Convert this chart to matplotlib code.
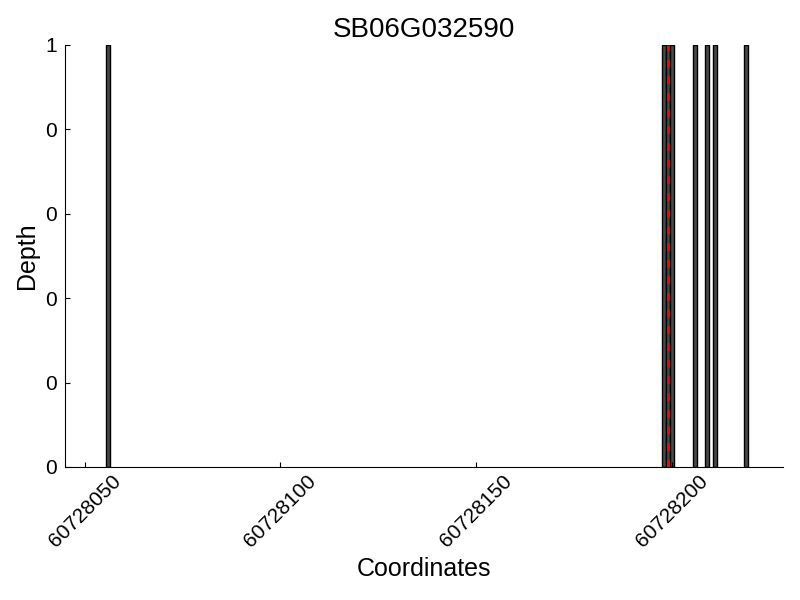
import matplotlib
matplotlib.use("Agg")
import matplotlib.pyplot as plt
from matplotlib.ticker import FormatStrFormatter

plt.rcParams['font.family'] = ['Liberation Sans', 'DejaVu Sans']

# read depth positions (genomic coordinates) and depth values
positions = [60728056, 60728198, 60728199, 60728200, 60728206, 60728209, 60728211, 60728219]
depths = [1, 1, 1, 1, 1, 1, 1, 1]
marker_pos = 60728199
gene_name = "SB06G032590"
xticks = [60728050, 60728100, 60728150, 60728200]
yticks = [0, 0.2, 0.4, 0.6, 0.8, 1.0]

fig = plt.figure(figsize=(8, 6), dpi=100)
ax = fig.add_axes([0.08125, 0.2217, 0.8975, 0.7033])

ax.bar(positions, depths, width=1, color='#4a4a4a', edgecolor='black', linewidth=1)
ax.axvline(marker_pos, color='red', linestyle=(0, (2.8, 3.2)), linewidth=2)

ax.set_xlim(60728044.9, 60728228.5)
ax.set_ylim(0, 1)
ax.set_xticks(xticks)
ax.set_yticks(yticks)
ax.xaxis.set_major_formatter(FormatStrFormatter('%d'))
ax.yaxis.set_major_formatter(FormatStrFormatter('%d'))

ax.spines['top'].set_visible(False)
ax.spines['right'].set_visible(False)
ax.tick_params(direction='in', labelsize=15, top=False, right=False)
ax.tick_params(axis='y', pad=6)
plt.setp(ax.get_xticklabels(), rotation=45)

ax.set_title(gene_name, fontsize=20)
ax.set_xlabel('Coordinates', fontsize=18)
ax.set_ylabel('Depth', fontsize=18)

fig.savefig('out.png', dpi=100)
